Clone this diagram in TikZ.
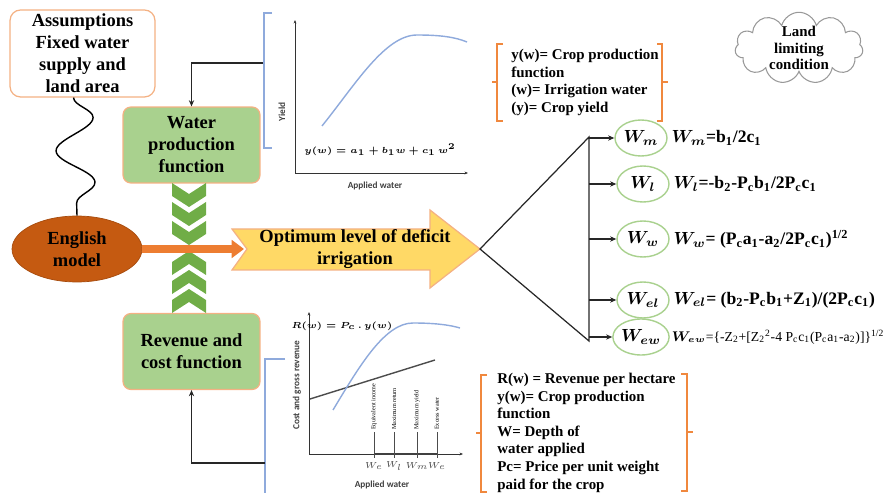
\documentclass[tikz,border=0pt]{standalone}
\usepackage{fontspec}
\setmainfont{Liberation Serif}
\setsansfont{Carlito}
\usetikzlibrary{shapes.geometric, shapes.symbols}
\usetikzlibrary{decorations.pathmorphing, arrows.meta, positioning}

\definecolor{peach}{HTML}{F4B183}
\definecolor{boxgreen}{HTML}{A9D18E}
\definecolor{chevgreen}{HTML}{70AD47}
\definecolor{rust}{HTML}{C55A11}
\definecolor{arrorange}{HTML}{ED7D31}
\definecolor{optyellow}{HTML}{FFD966}
\definecolor{lineblue}{HTML}{8FAADC}
\definecolor{brkorange}{HTML}{F0883E}

\newcommand{\sbs}[1]{\textsubscript{#1}}
\newcommand{\sps}[1]{\textsuperscript{#1}}

\begin{document}
\begin{tikzpicture}
    [
        x=0.02cm, y=-0.02cm,
        txt/.style={align=center, font=\bfseries\fontsize{10.5}{12.5}\selectfont},
        box/.style={txt, draw=peach, line width=0.7pt, rounded corners=4.5pt, fill=boxgreen, minimum width=2.74cm, minimum height=1.52cm},
        wnode/.style={ellipse, draw=boxgreen, line width=0.8pt, fill=white, inner sep=0pt, minimum width=1.04cm, minimum height=0.72cm, font=\boldmath\fontsize{10}{12}\selectfont},
        formula/.style={inner sep=0pt, font=\bfseries\boldmath\fontsize{10}{12}\selectfont},
        note/.style={anchor=north west, align=left, inner sep=0pt, font=\bfseries\fontsize{8.5}{10}\selectfont},
        conn/.style={line width=0.7pt, black!85},
        tip/.style={conn, -{Stealth[length=3.5pt, width=3pt]}},
        axis/.style={line width=0.5pt, black!80, -{Stealth[length=2pt, width=1.6pt]}},
        glabel/.style={font=\sffamily\bfseries\fontsize{5.3}{6}\selectfont, text=black!75},
        chev/.style={fill=chevgreen},
        orbrk/.style={draw=brkorange, line width=0.9pt},
        blbrk/.style={draw=lineblue, line width=0.9pt},
    ]
    \useasboundingbox (0,0) rectangle (889,493);

    \node[box, fill=white, inner sep=1pt, minimum width=2.9cm, minimum height=1.74cm, rounded corners=6pt] (assume) at (82.5,53.5) {Assumptions\\Fixed water\\supply and\\land area};
    \node[box] (wpf) at (191.5,145) {Water\\production\\function};
    \node[box] (rev) at (191.5,351.5) {Revenue and\\cost function};
    \node[txt, ellipse, fill=rust, draw=rust!85!black, minimum width=2.6cm, minimum height=1.16cm] (eng) at (77,249) {English\\model};

    \draw[decorate, decoration={snake, segment length=1.3cm, amplitude=0.38cm}, line width=0.8pt] ([xshift=-0.18cm]assume.south) -- (eng.north);

    \foreach \y in {183,202,221}
        \fill[chev] (172,\y) -- (189,\y+11) -- (206,\y) -- (206,\y+13) -- (189,\y+24) -- (172,\y+13) -- cycle;
    \foreach \y in {251,270,289}
        \fill[chev] (172,\y+24) -- (189,\y+13) -- (206,\y+24) -- (206,\y+11) -- (189,\y) -- (172,\y+11) -- cycle;

    \draw[draw=peach, fill=optyellow, line width=0.7pt] (232,229) -- (430,229) -- (430,210) -- (480,249) -- (430,288) -- (430,270) -- (232,270) -- (247,249) -- cycle;
    \node[txt, font=\bfseries\fontsize{10.5}{12}\selectfont] (opt) at (355,249) {Optimum level of deficit\\irrigation};
    \coordinate (optail) at (244,249);
    \coordinate (optip) at (480,249);
    \draw[line width=4pt, arrorange, -{Triangle[length=7pt, width=10pt]}] (eng.east) -- (optail);

    % top graph
    \draw[blbrk] (272,13) -- (264,13) -- (264,148) -- (272,148);
    \coordinate (topfb) at (263,63);
    \draw[tip] (topfb) -| (wpf.north);
    \coordinate (o1) at (295,173);
    \draw[axis] (o1) -- (295,20);
    \draw[axis] (o1) -- (468,173);
    \draw[lineblue, line width=0.8pt] (322,126) .. controls (355,85) and (385,35) .. (417,35) .. controls (440,35) and (455,37) .. (467,42);
    \node[glabel, rotate=90] (yield) at (282,112) {Yield};
    \node[font=\boldmath\fontsize{4.6}{6}\selectfont] (yfun) at (380,150) {$y(w) = a_1 + b_1w + c_1\, w^2$};
    \node[glabel] (aw1) at (375,186) {Applied water};

    % bottom graph
    \draw[blbrk] (285,359) -- (265,359) -- (265,495);
    \coordinate (botfb) at (265,463);
    \draw[tip] (botfb) -| (rev.south);
    \coordinate (o2) at (309,454);
    \draw[axis] (o2) -- (309,312);
    \draw[axis] (o2) -- (463,454);
    \draw[black!70, line width=0.8pt] (310,399) -- (435,360);
    \draw[lineblue, line width=0.8pt] (333,410) .. controls (360,365) and (385,323) .. (413,323) .. controls (435,323) and (450,325) .. (460,328);
    \node[font=\boldmath\fontsize{4.5}{5}\selectfont] (rfun) at (342,326) {$R(w) = P_c\, .\, y(w)$};
    \node[glabel, rotate=90] (cgr) at (297,385) {Cost and gross revenue};
    \node[glabel] (aw2) at (382,485) {Applied water};
    \draw[line width=1pt, black!75] (374,454) -- (437,454);
    \foreach \x/\lab/\w in {374/Equivalent income/e, 394/Maximum return/l, 417/Maximum yield/m, 437/Excess water/e} {
        \draw[line width=0.4pt, black!70] (\x,432) -- (\x,458);
        \node[rotate=90, anchor=west, inner sep=0.5pt, font=\fontsize{3.5}{4}\selectfont] (lab\x) at (\x,431) {\lab};
        \node[font=\fontsize{5}{6}\selectfont, text=black!70] (w\x) at (\x,466) {$W_\w$};
    }

    % notes
    \draw[orbrk] (503,44) -- (497,44) -- (497,121) -- (503,121) (497,82) -- (492,82);
    \draw[orbrk] (657,44) -- (662,44) -- (662,121) -- (657,121) (662,82) -- (668,82);
    \node[note] (ynote) at (511,49) {y(w)= Crop production\\function\\(w)= Irrigation water\\(y)= Crop yield};
    \draw[orbrk] (487,375) -- (481,375) -- (481,492) -- (487,492) (481,433) -- (476,433);
    \draw[orbrk] (681,374) -- (687,374) -- (687,491) -- (681,491) (687,432) -- (693,432);
    \node[note] (rnote) at (497,373) {R(w) = Revenue per hectare\\y(w)= Crop production\\function\\W= Depth of\\water applied\\Pc= Price per unit weight\\paid for the crop};

    \node[cloud, draw=black!40, line width=0.6pt, cloud puffs=11, aspect=1.9, inner sep=-2pt, minimum width=2.56cm, minimum height=1.4cm, align=center, font=\bfseries\fontsize{8.5}{9.5}\selectfont] (land) at (799,48) {Land\\limiting\\condition};

    % optimum values
    \node[wnode] (wm) at (641,138) {$W_m$};
    \node[wnode] (wl) at (643,184) {$W_l$};
    \node[wnode] (ww) at (643,239) {$W_w$};
    \node[wnode] (wel) at (643,300) {$W_{el}$};
    \node[wnode] (wew) at (641,337) {$W_{ew}$};
    \coordinate (jtop) at (589,137);
    \coordinate (jbot) at (589,341);
    \draw[conn] (optip) -- (jtop) -- (jbot) -- cycle;
    \foreach \n in {wm,wl,ww,wel,wew}
        \draw[tip] (jtop |- \n.west) -- (\n.west);
    \node[formula, right=2pt of wm] (fm) {$W_m$=b\sbs{1}/2c\sbs{1}};
    \node[formula, right=2pt of wl] (fl) {$W_l$=-b\sbs{2}-P\sbs{c}b\sbs{1}/2P\sbs{c}c\sbs{1}};
    \node[formula, right=2pt of ww] (fw) {$W_w$= (P\sbs{c}a\sbs{1}-a\sbs{2}/2P\sbs{c}c\sbs{1})\sps{1/2}};
    \node[formula, right=2pt of wel] (fel) {$W_{el}$= (b\sbs{2}-P\sbs{c}b\sbs{1}+Z\sbs{1})/(2P\sbs{c}c\sbs{1})};
    \node[formula, right=1pt of wew, font=\mdseries\boldmath\fontsize{7.8}{9}\selectfont] (few) {$W_{ew}$=\{-Z\sbs{2}+[Z\sbs{2}\sps{2}-4 P\sbs{c}c\sbs{1}(P\sbs{c}a\sbs{1}-a\sbs{2})]\}\sps{1/2}};
\end{tikzpicture}
\end{document}
